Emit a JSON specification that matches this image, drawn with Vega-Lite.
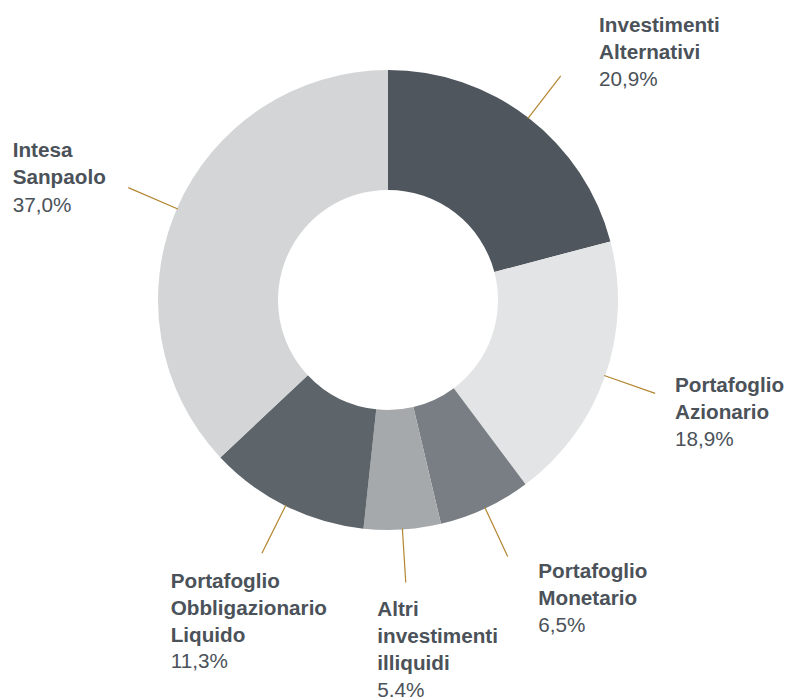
{
  "$schema": "https://vega.github.io/schema/vega-lite/v6.json",
  "width": 776,
  "height": 600,
  "autosize": {"type": "none"},
  "padding": {"left": 0, "top": 0, "right": 16, "bottom": 97},
  "background": "white",
  "config": {
    "view": {"stroke": null},
    "text": {"font": "Liberation Sans", "fontSize": 20.7, "lineHeight": 27, "color": "#4b5259", "align": "left", "baseline": "alphabetic"}
  },
  "data": {
    "values": [
      {"categoria": "Investimenti Alternativi", "nome": "Investimenti\nAlternativi", "quota": 20.9, "percentuale": "20,9%"},
      {"categoria": "Portafoglio Azionario", "nome": "Portafoglio\nAzionario", "quota": 18.9, "percentuale": "18,9%"},
      {"categoria": "Portafoglio Monetario", "nome": "Portafoglio\nMonetario", "quota": 6.5, "percentuale": "6,5%"},
      {"categoria": "Altri investimenti illiquidi", "nome": "Altri\ninvestimenti\nilliquidi", "quota": 5.4, "percentuale": "5,4%"},
      {"categoria": "Portafoglio Obbligazionario Liquido", "nome": "Portafoglio\nObbligazionario\nLiquido", "quota": 11.3, "percentuale": "11,3%"},
      {"categoria": "Intesa Sanpaolo", "nome": "Intesa\nSanpaolo", "quota": 37.0, "percentuale": "37,0%"}
    ]
  },
  "transform": [
    {"window": [{"op": "row_number", "as": "ordine"}, {"op": "sum", "field": "quota", "as": "cumulata"}]},
    {"joinaggregate": [{"op": "sum", "field": "quota", "as": "totale"}]},
    {"calculate": "2*PI*(datum.cumulata - datum.quota/2)/datum.totale", "as": "angolo"},
    {"calculate": "sin(datum.angolo)*229", "as": "lx1"},
    {"calculate": "cos(datum.angolo)*229", "as": "ly1"},
    {"calculate": "sin(datum.angolo)*283", "as": "lx2"},
    {"calculate": "cos(datum.angolo)*283", "as": "ly2"}
  ],
  "layer": [
    {
      "mark": {"type": "arc", "innerRadius": 110, "outerRadius": 230},
      "encoding": {
        "theta": {"field": "quota", "type": "quantitative", "stack": true},
        "order": {"field": "ordine", "type": "quantitative"},
        "color": {
          "field": "categoria",
          "type": "nominal",
          "legend": null,
          "scale": {
            "domain": ["Investimenti Alternativi", "Portafoglio Azionario", "Portafoglio Monetario", "Altri investimenti illiquidi", "Portafoglio Obbligazionario Liquido", "Intesa Sanpaolo"],
            "range": ["#4f565d", "#e3e4e5", "#787e83", "#a6a9ac", "#5e656a", "#d3d5d6"]
          }
        }
      }
    },
    {
      "mark": {"type": "rule", "color": "#b3852f", "strokeWidth": 1.2},
      "encoding": {
        "x": {"field": "lx1", "type": "quantitative", "axis": null, "scale": {"domain": [-388, 388], "nice": false, "zero": false}},
        "y": {"field": "ly1", "type": "quantitative", "axis": null, "scale": {"domain": [-300, 300], "nice": false, "zero": false}},
        "x2": {"field": "lx2"},
        "y2": {"field": "ly2"}
      }
    },
    {
      "transform": [{"filter": "datum.categoria === 'Investimenti Alternativi'"}],
      "encoding": {
        "x": {"field": "lx2", "type": "quantitative", "axis": null},
        "y": {"field": "ly2", "type": "quantitative", "axis": null}
      },
      "layer": [
        {"mark": {"type": "text", "fontWeight": "bold", "lineBreak": "\n", "dx": 38.3, "dy": -43.8}, "encoding": {"text": {"field": "nome"}}},
        {"mark": {"type": "text", "dx": 38.3, "dy": 10.2}, "encoding": {"text": {"field": "percentuale"}}}
      ]
    },
    {
      "transform": [{"filter": "datum.categoria === 'Portafoglio Azionario'"}],
      "encoding": {
        "x": {"field": "lx2", "type": "quantitative", "axis": null},
        "y": {"field": "ly2", "type": "quantitative", "axis": null}
      },
      "layer": [
        {"mark": {"type": "text", "fontWeight": "bold", "lineBreak": "\n", "dx": 19.8, "dy": -1.7}, "encoding": {"text": {"field": "nome"}}},
        {"mark": {"type": "text", "dx": 19.8, "dy": 52.3}, "encoding": {"text": {"field": "percentuale"}}}
      ]
    },
    {
      "transform": [{"filter": "datum.categoria === 'Portafoglio Monetario'"}],
      "encoding": {
        "x": {"field": "lx2", "type": "quantitative", "axis": null},
        "y": {"field": "ly2", "type": "quantitative", "axis": null}
      },
      "layer": [
        {"mark": {"type": "text", "fontWeight": "bold", "lineBreak": "\n", "dx": 30.6, "dy": 21.8}, "encoding": {"text": {"field": "nome"}}},
        {"mark": {"type": "text", "dx": 30.6, "dy": 75.8}, "encoding": {"text": {"field": "percentuale"}}}
      ]
    },
    {
      "transform": [{"filter": "datum.categoria === 'Altri investimenti illiquidi'"}],
      "encoding": {
        "x": {"field": "lx2", "type": "quantitative", "axis": null},
        "y": {"field": "ly2", "type": "quantitative", "axis": null}
      },
      "layer": [
        {"mark": {"type": "text", "fontWeight": "bold", "lineBreak": "\n", "dx": -28.5, "dy": 33.6}, "encoding": {"text": {"field": "nome"}}},
        {"mark": {"type": "text", "dx": -28.5, "dy": 114.6}, "encoding": {"text": {"field": "percentuale"}}}
      ]
    },
    {
      "transform": [{"filter": "datum.categoria === 'Portafoglio Obbligazionario Liquido'"}],
      "encoding": {
        "x": {"field": "lx2", "type": "quantitative", "axis": null},
        "y": {"field": "ly2", "type": "quantitative", "axis": null}
      },
      "layer": [
        {"mark": {"type": "text", "fontWeight": "bold", "lineBreak": "\n", "dx": -91.2, "dy": 35}, "encoding": {"text": {"field": "nome"}}},
        {"mark": {"type": "text", "dx": -91.2, "dy": 115}, "encoding": {"text": {"field": "percentuale"}}}
      ]
    },
    {
      "transform": [{"filter": "datum.categoria === 'Intesa Sanpaolo'"}],
      "encoding": {
        "x": {"field": "lx2", "type": "quantitative", "axis": null},
        "y": {"field": "ly2", "type": "quantitative", "axis": null}
      },
      "layer": [
        {"mark": {"type": "text", "fontWeight": "bold", "lineBreak": "\n", "dx": -115.6, "dy": -30.3}, "encoding": {"text": {"field": "nome"}}},
        {"mark": {"type": "text", "dx": -115.6, "dy": 23.9}, "encoding": {"text": {"field": "percentuale"}}}
      ]
    }
  ]
}
